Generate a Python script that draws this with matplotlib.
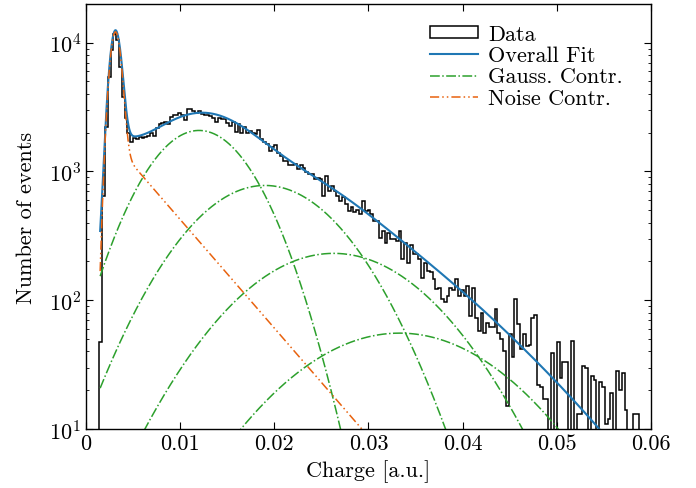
import math
import numpy as np
import matplotlib
matplotlib.use('Agg')
import matplotlib.pyplot as plt

plt.rcParams.update({
    'font.family': 'serif',
    'font.serif': ['cmr10'],
    'mathtext.fontset': 'cm',
    'axes.formatter.use_mathtext': True,
    'font.size': 16,
})

# Histogram: first bin edge, bin width and counts per bin
bin_start = 0.0014
bin_width = 0.0003
counts = [
    47, 640, 2200, 5400, 8700, 11700, 10500, 6500, 3800, 2600, 2000,
    1700, 1820, 1800, 1850, 1820, 1850, 1900, 2000, 1900, 2180, 2340, 2380, 2420, 2340,
    2640, 2760, 2760, 2850, 2760, 2520, 3030, 3030, 2950, 2850, 2950, 2800, 2760, 2760,
    2690, 2620, 2440, 2620, 2560, 2560, 2370, 2250, 2400, 2020, 2350, 2000, 2200, 1980,
    2050, 2000, 1950, 2080, 1770, 1700, 1620, 1440, 1560, 1600, 1380, 1320, 1200, 1210,
    1120, 1130, 1150, 1040, 1130, 1070, 990, 950, 960, 870,
    890, 870, 640, 920, 700, 770, 700, 650, 590, 630, 555, 490, 530, 480, 505, 470,
    590, 490, 505, 470, 410, 410, 305, 344, 280, 335, 297, 300, 290, 345, 209, 280,
    195, 270, 230, 227, 210, 150, 195, 170,
    165, 146, 122, 125, 102, 96, 108, 125, 120, 146, 108, 120, 108, 128, 75, 125,
    73, 58, 80, 56, 67, 62, 62, 85, 56, 50, 40, 15, 55, 36, 102, 65,
    42, 55, 44, 45, 73, 77,
    22, 21, 17, 17, 0, 39, 0, 47, 25, 33, 33, 0, 48, 0, 13, 13, 31, 30, 0, 26,
    24, 0, 23, 21, 11, 12, 19, 0, 28, 20, 27, 14, 0, 0, 13, 13,
]

# Fit results: noise peak + exponential tail, and the photoelectron gaussians
noise_amp = 11300
noise_mu = 0.0031
noise_sigma = 0.00055
tail_amp = 2950
tail_decay = 0.00515
gauss_amp = [2080, 778, 231, 55.5, 15]
gauss_mu = [0.0120, 0.0190, 0.0263, 0.0333, 0.0403]
gauss_sigma = [0.0046, 0.0065, 0.0080, 0.0091, 0.0103]
n_shown = 4  # only the first four gaussians are drawn

xtick_vals = [0, 0.01, 0.02, 0.03, 0.04, 0.05, 0.06]
xtick_labels = ['0', '0.01', '0.02', '0.03', '0.04', '0.05', '0.06']

edges = bin_start + bin_width * np.arange(len(counts) + 1)
x = np.linspace(0.0015, 0.06, 1500)

erf = np.vectorize(math.erf)
noise = noise_amp * np.exp(-(x - noise_mu) ** 2 / (2 * noise_sigma ** 2))
noise += tail_amp * np.exp(-x / tail_decay) * 0.5 * (1 + erf((x - noise_mu) / (np.sqrt(2) * noise_sigma)))
gauss = [a * np.exp(-(x - m) ** 2 / (2 * s ** 2)) for a, m, s in zip(gauss_amp, gauss_mu, gauss_sigma)]
total = noise + np.sum(gauss, axis=0)

fig = plt.figure(figsize=(6.96, 4.89), dpi=100)
ax = fig.add_axes([0.1236, 0.1207, 0.8117, 0.8691])
ax.set_yscale('log', nonpositive='clip')

ax.hist(edges[:-1], bins=edges, weights=counts, histtype='step', color='black', lw=1.1, label='Data')
ax.plot(x, total, color='#1f77b4', lw=1.5, label='Overall Fit')
for i in range(n_shown):
    ax.plot(x, gauss[i], color='#2ca02c', lw=1.1, ls='-.', label='Gauss. Contr.' if i == 0 else None)
ax.plot(x, noise, color='#e8620e', lw=1.1, ls=(0, (6, 2, 1, 2, 1, 2)), label='Noise Contr.')

ax.set_xlim(0, 0.06)
ax.set_ylim(10, 10 ** 4.30)
ax.set_xticks(xtick_vals)
ax.set_xticklabels(xtick_labels)
ax.set_xlabel('Charge [a.u.]')
ax.set_ylabel('Number of events', labelpad=9)
ax.tick_params(which='both', direction='in', top=True, right=True)
ax.tick_params(which='major', length=5)
ax.tick_params(which='minor', length=2.5)
for s in ax.spines.values():
    s.set_linewidth(1.0)

ax.legend(loc='upper right', bbox_to_anchor=(0.95, 0.952), frameon=False, fontsize=16,
          handlelength=2.15, handleheight=0.4, labelspacing=0.08, borderaxespad=0,
          borderpad=0, handletextpad=0.45)

fig.savefig('out.png', dpi=100)
